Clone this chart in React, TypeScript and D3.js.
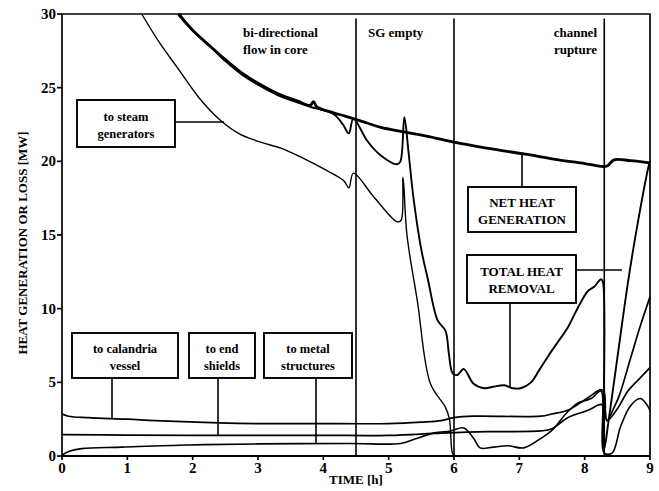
import React from 'react';
import * as d3 from 'd3';

// time [h], heat [MW]
const netHeatGen: [number, number][] = [
  [1.78, 30], [2.0, 28.9], [2.27, 27.8], [2.5, 26.9], [2.75, 26.0], [3.0, 25.3], [3.3, 24.6],
  [3.6, 24.1], [3.8, 23.8], [3.85, 24.05], [3.9, 23.7], [4.16, 23.3], [4.46, 22.9], [4.67, 22.6],
  [4.88, 22.3], [5.23, 22.0], [5.6, 21.7], [6.0, 21.3], [6.5, 20.9], [7.07, 20.5], [7.6, 20.1],
  [8.0, 19.85], [8.28, 19.65], [8.35, 19.7], [8.45, 20.1], [8.7, 20.05], [9.0, 19.9],
];

const totalHeatRemoval: [number, number][] = [
  [1.8, 30], [2.0, 28.9], [2.27, 27.8], [2.5, 26.8], [2.75, 25.9], [3.0, 25.2], [3.3, 24.5],
  [3.6, 24.0], [3.8, 23.7], [4.16, 23.2], [4.3, 22.5], [4.39, 21.9], [4.46, 22.9], [4.67, 21.4],
  [4.88, 20.4], [5.13, 19.8], [5.18, 20.0], [5.24, 23.0], [5.3, 20.8], [5.38, 17.5], [5.5, 14.0],
  [5.6, 12.0], [5.75, 9.2], [5.87, 8.5], [5.92, 7.0], [5.98, 5.6], [6.05, 5.5], [6.15, 5.9],
  [6.3, 4.9], [6.46, 4.6], [6.6, 4.7], [6.77, 4.8], [6.9, 4.6], [7.02, 4.6], [7.18, 5.0],
  [7.3, 5.8], [7.49, 7.1], [7.6, 7.8], [7.74, 8.7], [7.9, 10.1], [8.05, 11.2], [8.15, 11.5],
  [8.25, 12.0], [8.28, 11.8], [8.3, 0.5], [8.36, 2.2], [8.48, 6.0], [8.66, 11.7], [8.8, 15.5],
  [8.97, 19.5], [9.0, 20.0],
];

const toSteamGen: [number, number][] = [
  [1.22, 30], [1.5, 28.0], [1.76, 26.4], [2.1, 24.3], [2.42, 22.8], [2.7, 21.9], [3.04, 21.3],
  [3.35, 20.9], [3.65, 20.3], [4.0, 19.5], [4.31, 18.7], [4.39, 18.2], [4.46, 19.2], [4.77, 17.6],
  [5.13, 15.9], [5.19, 16.0], [5.22, 18.9], [5.28, 15.0], [5.44, 10.5], [5.64, 4.9], [5.87, 3.3],
  [5.93, 2.5], [5.97, 0.3], [6.0, 0],
];

const toCalandria: [number, number][] = [
  [0, 2.85], [0.1, 2.7], [0.4, 2.6], [1.0, 2.5], [1.43, 2.4], [2.4, 2.25], [3.0, 2.2], [3.88, 2.2],
  [5.0, 2.2], [5.5, 2.3], [5.8, 2.4], [6.0, 2.6], [6.3, 2.7], [7.33, 2.7], [7.5, 2.85], [7.74, 3.1],
  [8.05, 3.95], [8.25, 4.5], [8.3, 4.3], [8.34, 2.4], [8.5, 3.2], [8.66, 4.4], [8.85, 5.3], [9.0, 6.0],
];

const toEndShields: [number, number][] = [
  [0, 1.45], [1.0, 1.42], [2.5, 1.4], [4.0, 1.4], [5.0, 1.4], [5.8, 1.55], [6.5, 1.65], [7.33, 1.7],
  [7.5, 1.85], [7.74, 2.6], [8.05, 3.1], [8.25, 3.5], [8.3, 3.3], [8.34, 2.4], [8.45, 3.3],
  [8.53, 4.1], [8.7, 6.6], [8.85, 8.8], [9.0, 10.8],
];

const toMetal: [number, number][] = [
  [0, 0.05], [0.1, 0.3], [0.3, 0.5], [0.92, 0.6], [1.93, 0.75], [3.0, 0.82], [4.4, 0.85], [5.18, 0.85],
  [5.4, 1.15], [5.7, 1.57], [5.95, 1.7], [6.15, 1.9], [6.3, 1.2], [6.4, 0.55], [6.6, 0.6], [6.82, 0.7],
  [7.07, 0.55], [7.33, 1.2], [7.49, 1.7], [7.74, 3.0], [7.9, 3.6], [8.0, 3.75], [8.1, 3.9], [8.25, 4.4],
  [8.3, 0.2], [8.42, 0.2], [8.55, 2.0], [8.7, 3.4], [8.85, 3.9], [8.95, 3.5], [9.0, 3.1],
];

const eventTimes = [4.5, 6.0, 8.3];
const xTicks = [0, 1, 2, 3, 4, 5, 6, 7, 8, 9];
const yTicks = [0, 5, 10, 15, 20, 25, 30];

const W = 659;
const H = 491;
const FONT = '"Liberation Serif", "DejaVu Serif", serif';

const valueAt = (s: [number, number][], t: number) => {
  for (let i = 1; i < s.length; i++) {
    if (s[i][0] >= t) {
      const [t0, v0] = s[i - 1];
      const [t1, v1] = s[i];
      return v0 + ((v1 - v0) * (t - t0)) / (t1 - t0);
    }
  }
  return s[s.length - 1][1];
};

const App = () => {
  const x = d3.scaleLinear().domain([0, 9]).range([62, 650]);
  const y = d3.scaleLinear().domain([0, 30]).range([456, 14]);
  const line = d3.line<[number, number]>()
    .x(d => x(d[0]))
    .y(d => y(d[1]))
    .curve(d3.curveCatmullRom.alpha(0.5));

  const series = [
    { d: netHeatGen, w: 2.8 },
    { d: totalHeatRemoval, w: 1.9 },
    { d: toSteamGen, w: 1.4 },
    { d: toCalandria, w: 1.7 },
    { d: toEndShields, w: 1.7 },
    { d: toMetal, w: 1.6 },
  ];

  const boxes = [
    { x0: 77, y0: 100, x1: 175, y1: 147, lines: ['to steam', 'generators'], size: 12.5 },
    { x0: 72, y0: 333, x1: 178, y1: 378, lines: ['to calandria', 'vessel'], size: 12.5 },
    { x0: 189, y0: 333, x1: 255, y1: 378, lines: ['to end', 'shields'], size: 12.5 },
    { x0: 264, y0: 333, x1: 352, y1: 378, lines: ['to metal', 'structures'], size: 12.5 },
    { x0: 468, y0: 187, x1: 576, y1: 232, lines: ['NET HEAT', 'GENERATION'], size: 13 },
    { x0: 467, y0: 255, x1: 576, y1: 303, lines: ['TOTAL HEAT', 'REMOVAL'], size: 13 },
  ];

  const vLeader = (px: number, fromY: number, s: [number, number][]) => {
    const t = x.invert(px);
    return <line x1={px} x2={px} y1={fromY} y2={y(valueAt(s, t))} stroke="#000" strokeWidth={1.6} />;
  };

  return (
    <div style={{ position: 'absolute', left: 0, top: 0, width: W, height: H, background: '#fff' }}>
      <svg width={W} height={H} fontFamily={FONT}>
        <rect width={W} height={H} fill="#fff" />
        {/* frame */}
        <path
          d={`M${x(0)},${y(0)} V${y(30)} H${x(9)} V${y(0)}`}
          fill="none" stroke="#000" strokeWidth={1.7}
        />
        <line x1={x(0)} x2={x(9)} y1={y(0)} y2={y(0)} stroke="#000" strokeWidth={1.9} />

        {/* ticks */}
        {xTicks.map(t => (
          <g key={'x' + t}>
            <line x1={x(t)} x2={x(t)} y1={y(0)} y2={y(0) + 4} stroke="#000" strokeWidth={1.7} />
            <text x={x(t)} y={y(0) + 17} textAnchor="middle" fontSize={15} fontWeight="bold">{t}</text>
          </g>
        ))}
        {yTicks.map(v => (
          <g key={'y' + v}>
            <line x1={x(0) - 5} x2={x(0)} y1={y(v)} y2={y(v)} stroke="#000" strokeWidth={1.7} />
            <text x={x(0) - 6} y={y(v) + 5} textAnchor="end" fontSize={15} fontWeight="bold">{v}</text>
          </g>
        ))}
        <text x={x(4.5)} y={484} textAnchor="middle" fontSize={13} fontWeight="bold">TIME [h]</text>
        <text
          transform={`translate(27,${(y(0) + y(30)) / 2 + 8}) rotate(-90)`}
          textAnchor="middle" fontSize={13} fontWeight="bold"
        >HEAT GENERATION OR LOSS [MW]</text>

        {/* event lines */}
        {eventTimes.map(t => (
          <line key={'e' + t} x1={x(t)} x2={x(t)} y1={y(29.7)} y2={y(0)} stroke="#000" strokeWidth={1.6} />
        ))}

        {/* curves */}
        {series.map((s, i) => (
          <path key={i} d={line(s.d) || ''} fill="none" stroke="#000" strokeWidth={s.w} strokeLinejoin="round" />
        ))}

        {/* event labels */}
        <g fontSize={13} fontWeight="bold">
          <text x={243} y={37}>bi-directional</text>
          <text x={243} y={54}>flow in core</text>
          <text x={368} y={37}>SG empty</text>
          <text x={597} y={37} textAnchor="end">channel</text>
          <text x={597} y={54} textAnchor="end">rupture</text>
        </g>

        {/* leaders */}
        <line x1={175} x2={x(2.48)} y1={122} y2={122} stroke="#000" strokeWidth={1.6} />
        {vLeader(112, 378, toCalandria)}
        {vLeader(218, 378, toEndShields)}
        {vLeader(316, 378, toMetal)}
        {vLeader(522, 187, netHeatGen)}
        {vLeader(510, 303, totalHeatRemoval)}
        <line x1={576} x2={622} y1={270} y2={270} stroke="#000" strokeWidth={1.6} />

        {/* boxes */}
        {boxes.map((b, i) => (
          <g key={'b' + i}>
            <rect x={b.x0} y={b.y0} width={b.x1 - b.x0} height={b.y1 - b.y0} fill="#fff" stroke="#000" strokeWidth={1.9} />
            {b.lines.map((l, j) => (
              <text key={j} x={(b.x0 + b.x1) / 2} y={b.y0 + (b.y1 - b.y0) / 2 - 3 + j * 17}
                textAnchor="middle" fontSize={b.size} fontWeight="bold">{l}</text>
            ))}
          </g>
        ))}
      </svg>
    </div>
  );
};

export default App;
